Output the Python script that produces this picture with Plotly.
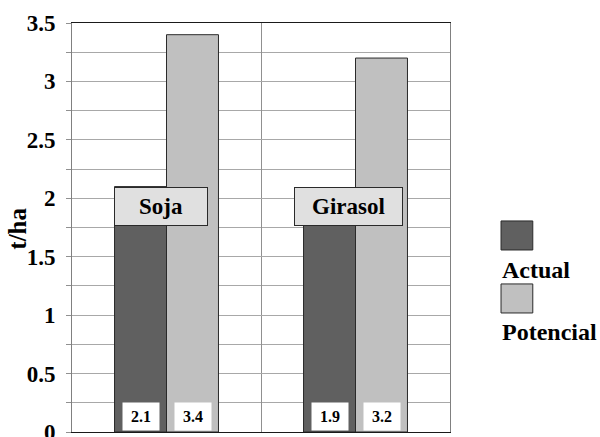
import plotly.graph_objects as go

# Yield data (t/ha) per crop
crops = ["Soja", "Girasol"]
actual = [2.1, 1.9]
potencial = [3.4, 3.2]
series_names = ["Actual", "Potencial"]
y_title = "t/ha"

FONT = "Liberation Serif"
DARK = "#606060"
LIGHT = "#c0c0c0"
EDGE = "#2a2a2a"

fig = go.Figure()
fig.add_trace(go.Bar(x=crops, y=actual, name=series_names[0],
                     marker=dict(color=DARK, line=dict(color=EDGE, width=1))))
fig.add_trace(go.Bar(x=crops, y=potencial, name=series_names[1],
                     marker=dict(color=LIGHT, line=dict(color=EDGE, width=1))))

annotations = []
# value boxes at the foot of each bar
for i, crop in enumerate(crops):
    for vals, shift in ((actual, -26), (potencial, 26)):
        annotations.append(dict(
            x=crop, y=0, xref="x", yref="y", xanchor="center", yanchor="bottom",
            xshift=shift, yshift=1, text=f"<b>{vals[i]}</b>", showarrow=False,
            bgcolor="white", width=36, height=27, borderpad=0,
            font=dict(family=FONT, size=16, color="black")))

# crop name boxes
name_widths = [92, 107]
name_shifts = [-6, -7]
label_level = max(actual)
for i, crop in enumerate(crops):
    annotations.append(dict(
        x=crop, y=label_level, xref="x", yref="y", xanchor="center", yanchor="top",
        xshift=name_shifts[i], text=f"<b>{crop}</b>", showarrow=False,
        bgcolor="#e0e0e0", bordercolor=EDGE, borderwidth=1, borderpad=0,
        width=name_widths[i], height=37,
        font=dict(family=FONT, size=23, color="black")))

# legend: swatch above its label
legend_items = [(series_names[0], DARK, 0.516, 0.396), (series_names[1], LIGHT, 0.362, 0.245)]
shapes = []
for name, color, top, text_y in legend_items:
    shapes.append(dict(type="rect", xref="paper", yref="paper",
                       x0=1.135, x1=1.219, y0=top - 0.071, y1=top,
                       fillcolor=color, line=dict(color=EDGE, width=1)))
    annotations.append(dict(x=1.132, y=text_y, xref="paper", yref="paper",
                            xanchor="left", yanchor="middle", text=f"<b>{name}</b>",
                            showarrow=False,
                            font=dict(family=FONT, size=24, color="black")))

# rotated y-axis title
annotations.append(dict(x=-0.143, y=0.497, xref="paper", yref="paper",
                        xanchor="center", yanchor="middle", textangle=-90,
                        text=f"<b>{y_title}</b>", showarrow=False,
                        font=dict(family=FONT, size=25, color="black")))

fig.update_layout(
    width=600, height=437,
    margin=dict(l=72, r=150, t=23, b=5),
    paper_bgcolor="white", plot_bgcolor="white",
    barmode="group", bargap=0.45, bargroupgap=0,
    showlegend=False,
    annotations=annotations, shapes=shapes,
    font=dict(family=FONT, color="black"),
)
fig.update_xaxes(
    showticklabels=False, ticks="", tickson="boundaries",
    showgrid=True, gridcolor="#909090", gridwidth=1,
    showline=True, linecolor="#1a1a1a", linewidth=1, mirror=True,
    automargin=False,
)
fig.update_yaxes(
    range=[0, 3.5], dtick=0.5, tick0=0,
    ticks="outside", ticklen=5, tickcolor="#909090",
    showgrid=True, gridcolor="#a8a8a8", gridwidth=1,
    minor=dict(dtick=0.25, ticks="outside", ticklen=5, tickcolor="#909090",
               showgrid=True, gridcolor="#a8a8a8", gridwidth=1),
    showline=True, linecolor="#808080", linewidth=1, mirror=True,
    zeroline=False, ticklabeloverflow="allow", automargin=False,
    ticklabelstandoff=6,
    tickfont=dict(family=FONT, size=23, color="black"),
    tickprefix="<b>", ticksuffix="</b>",
)

fig.write_html("out.html")
